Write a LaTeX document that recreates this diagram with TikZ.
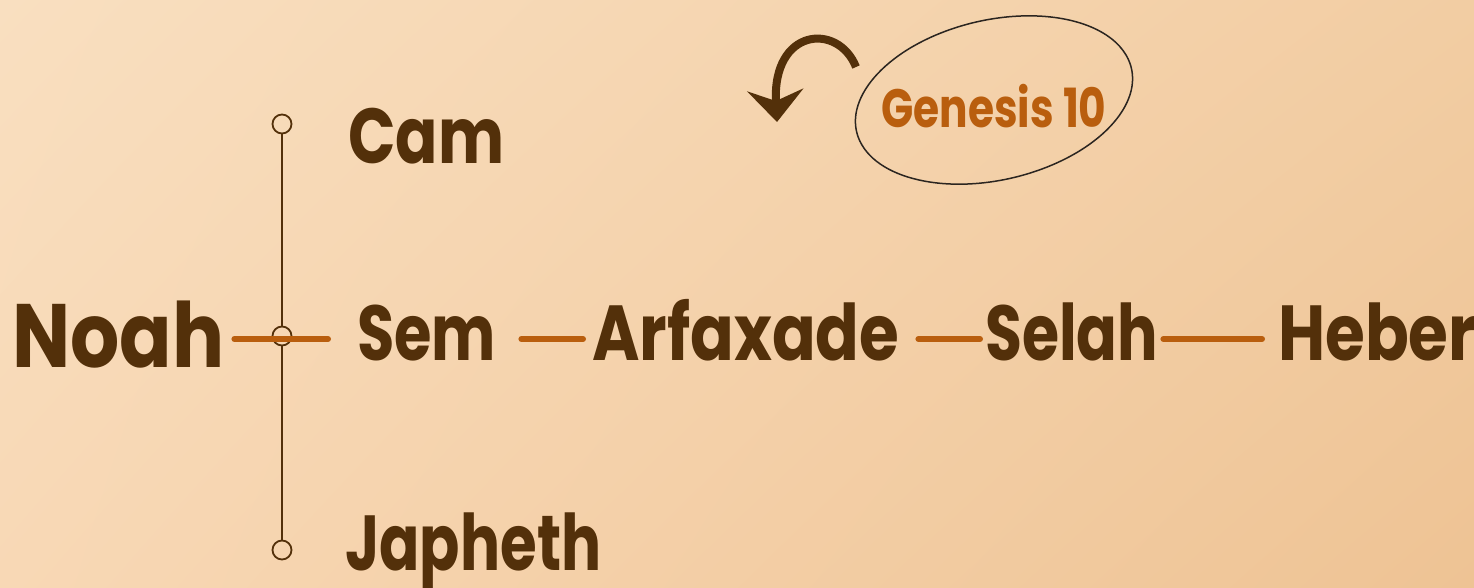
\documentclass[tikz,border=0pt]{standalone}
\usepackage{fontspec}
\usepackage{graphicx}
\setmainfont{Poppins}
\usetikzlibrary{arrows.meta,shadings}
\definecolor{bark}{HTML}{53300A}
\definecolor{rust}{HTML}{B95E0E}
\definecolor{ink}{HTML}{2B2520}
\definecolor{bgTL}{HTML}{F9DFC0}
\definecolor{bgTR}{HTML}{F2CDA3}
\definecolor{bgBL}{HTML}{F8D8B5}
\definecolor{bgBR}{HTML}{EEC394}
\newcommand{\fitname}[2]{\resizebox{#1}{\height}{#2}}

\begin{document}
\begin{tikzpicture}[x=1pt,y=1pt,
  person/.style={font=\bfseries\fontsize{78}{78}\selectfont,text=bark,inner sep=0pt,
    text height=50pt,text depth=8pt,anchor=base west},
  knot/.style={circle,draw=bark,line width=1.8pt,minimum size=19pt,inner sep=0pt},
  stem/.style={draw=bark,line width=2pt},
  link/.style={draw=rust,line width=6pt,line cap=round}]
\shade[upper left=bgTL,upper right=bgTR,lower left=bgBL,lower right=bgBR]
  (0,0) rectangle (1474,-588);
\useasboundingbox (0,0) rectangle (1474,-588);

% sons of Noah
\node[knot] (ctop) at (282,-124) {};
\node[knot] (cmid) at (282,-336) {};
\node[knot] (cbot) at (282,-550) {};
\draw[stem] (ctop) -- (cmid);
\draw[stem] (cmid) -- (cbot);

\node[person,font=\bfseries\fontsize{90}{90}\selectfont,text height=60pt,text depth=4pt,
  minimum width=206pt] (noah) at (12,-367) {\fitname{212pt}{Noah}};
\node[person,minimum width=150pt] (cam) at (348,-164) {\fitname{156pt}{Cam}};
\node[person,minimum width=133pt] (sem) at (357,-360) {\fitname{139pt}{Sem}};
\node[person,minimum width=250pt] (japheth) at (345,-570) {\fitname{256pt}{Japheth}};
\node[person,minimum width=301pt] (arfax) at (592,-360) {\fitname{307pt}{Arfaxade}};
\node[person,minimum width=167pt] (selah) at (985,-360) {\fitname{173pt}{Selah}};
\node[person,minimum width=192pt] (heber) at (1278,-360) {\fitname{198pt}{Heber}};

\draw[link,shorten <=10pt,shorten >=29pt] (noah.east) -- (sem.west);
\draw[link,shorten <=25pt,shorten >=9pt] (sem.east) -- (arfax.west);
\draw[link,shorten <=19pt,shorten >=5pt] (arfax.east) -- (selah.west);
\draw[link,shorten <=5pt,shorten >=16pt] (selah.east) -- (heber.west);

% the note
\node[font=\bfseries\fontsize{54}{54}\selectfont,text=rust,inner sep=0pt,anchor=base]
  (gen) at (994,-128) {\fitname{225pt}{Genesis 10}};
\coordinate (loop) at (994,-100);
\draw[ink,line width=1.5pt,line cap=round,rotate around={13:(loop)}]
  (loop) ++(100:141 and 80) arc[start angle=100,end angle=478,x radius=141,y radius=80];
\coordinate (tail) at (856,-67);
\coordinate (tip) at (777,-122);
\draw[bark,line width=8pt,-{Stealth[length=32pt,width=56pt,inset=11pt]}]
  (tail) .. controls (838,-22) and (772,-28) .. (tip);
\end{tikzpicture}
\end{document}
